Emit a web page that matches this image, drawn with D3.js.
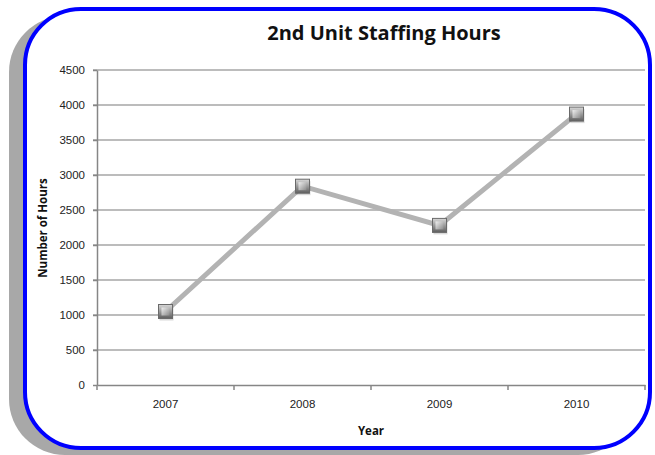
<!DOCTYPE html>
<html>
<head>
<meta charset="utf-8">
<script src="https://cdn.jsdelivr.net/npm/d3@7"></script>
<style>
  body { margin: 0; background: #fff; }
  svg { display: block; font-family: "Open Sans", sans-serif; }
</style>
</head>
<body>
<div id="chart"></div>
<script>
// 数据
const years = ["2007", "2008", "2009", "2010"];
const hours = [1050, 2840, 2280, 3870];
const yTicks = [0, 500, 1000, 1500, 2000, 2500, 3000, 3500, 4000, 4500];

const width = 655;
const height = 455;

const svg = d3.select("#chart")
	.append("svg")
	.attr("width", width)
	.attr("height", height);

// 阴影 + 蓝色圆角边框
svg.append("rect")
	.attr("x", 9).attr("y", 16)
	.attr("width", 625).attr("height", 439)
	.attr("rx", 56).attr("ry", 56)
	.attr("fill", "#a8a8a8");

svg.append("rect")
	.attr("x", 25).attr("y", 9)
	.attr("width", 625).attr("height", 439)
	.attr("rx", 56).attr("ry", 56)
	.attr("fill", "#fff")
	.attr("stroke", "#0000ff")
	.attr("stroke-width", 4);

const x = d3.scaleBand()
	.domain(years)
	.range([97, 645]);

const y = d3.scaleLinear()
	.domain([0, 4500])
	.range([385, 70]);

// 网格线
svg.append("g")
	.selectAll("line")
	.data(yTicks.slice(1))
	.join("line")
	.attr("x1", 93)
	.attr("x2", 645)
	.attr("y1", d => y(d))
	.attr("y2", d => y(d))
	.attr("stroke", "#a6a6a6")
	.attr("stroke-width", 1.5);

// y 轴
const yAxis = svg.append("g")
	.attr("transform", "translate(97,0)")
	.call(d3.axisLeft(y).tickValues(yTicks).tickFormat(d3.format("d")).tickSize(4).tickPadding(8).tickSizeOuter(0));
yAxis.select(".domain").attr("stroke", "#868686").attr("stroke-width", 1.5);
yAxis.selectAll(".tick line").attr("stroke", "#868686").attr("stroke-width", 1.5);
yAxis.selectAll("text").attr("font-size", 11.5).attr("fill", "#222");

// x 轴
const xAxis = svg.append("g")
	.attr("transform", "translate(0,385)")
	.call(d3.axisBottom(x).tickSize(0).tickPadding(15));
xAxis.select(".domain").attr("stroke", "#868686").attr("stroke-width", 1.5);
xAxis.selectAll("text").attr("font-size", 11.5).attr("fill", "#222");

xAxis.selectAll(".band-tick")
	.data(years.map(d => x(d)).concat([x.range()[1]]))
	.join("line")
	.attr("x1", d => d).attr("x2", d => d)
	.attr("y1", 0).attr("y2", 5)
	.attr("stroke", "#868686")
	.attr("stroke-width", 1.5);

// 标题
svg.append("text")
	.attr("x", 384).attr("y", 40)
	.attr("text-anchor", "middle")
	.attr("font-size", 20)
	.attr("font-weight", "bold")
	.attr("fill", "#111")
	.text("2nd Unit Staffing Hours");

svg.append("text")
	.attr("transform", "translate(47,228) rotate(-90)")
	.attr("text-anchor", "middle")
	.attr("font-size", 11.5)
	.attr("font-weight", "bold")
	.attr("fill", "#111")
	.text("Number of Hours");

svg.append("text")
	.attr("x", 371).attr("y", 435)
	.attr("text-anchor", "middle")
	.attr("font-size", 11.5)
	.attr("font-weight", "bold")
	.attr("fill", "#111")
	.text("Year");

// 折线
const pts = years.map((d, i) => [x(d) + x.bandwidth() / 2, y(hours[i])]);

svg.append("path")
	.attr("d", d3.line()(pts))
	.attr("fill", "none")
	.attr("stroke", "#b3b3b3")
	.attr("stroke-width", 5);

// 标记渐变
const defs = svg.append("defs");
const grad = defs.append("linearGradient")
	.attr("id", "mk")
	.attr("x1", 0).attr("y1", 0).attr("x2", 0).attr("y2", 1);
grad.append("stop").attr("offset", "0%").attr("stop-color", "#d8d8d8");
grad.append("stop").attr("offset", "100%").attr("stop-color", "#5e5e5e");

const grad2 = defs.append("linearGradient")
	.attr("id", "mk2")
	.attr("x1", 0).attr("y1", 0).attr("x2", 1).attr("y2", 1);
grad2.append("stop").attr("offset", "0%").attr("stop-color", "#f0f0f0");
grad2.append("stop").attr("offset", "100%").attr("stop-color", "#8a8a8a");

const mk = svg.append("g")
	.selectAll("g")
	.data(pts)
	.join("g")
	.attr("transform", d => `translate(${d[0]},${d[1]})`);

mk.append("rect")
	.attr("x", -6).attr("y", -5)
	.attr("width", 14).attr("height", 14)
	.attr("fill", "#000")
	.attr("opacity", 0.15);
mk.append("rect")
	.attr("x", -7).attr("y", -7)
	.attr("width", 14).attr("height", 14)
	.attr("fill", "url(#mk)")
	.attr("stroke", "#6a6a6a")
	.attr("stroke-width", 1);
mk.append("rect")
	.attr("x", -4).attr("y", -4)
	.attr("width", 8).attr("height", 8)
	.attr("fill", "url(#mk2)");
</script>
</body>
</html>
